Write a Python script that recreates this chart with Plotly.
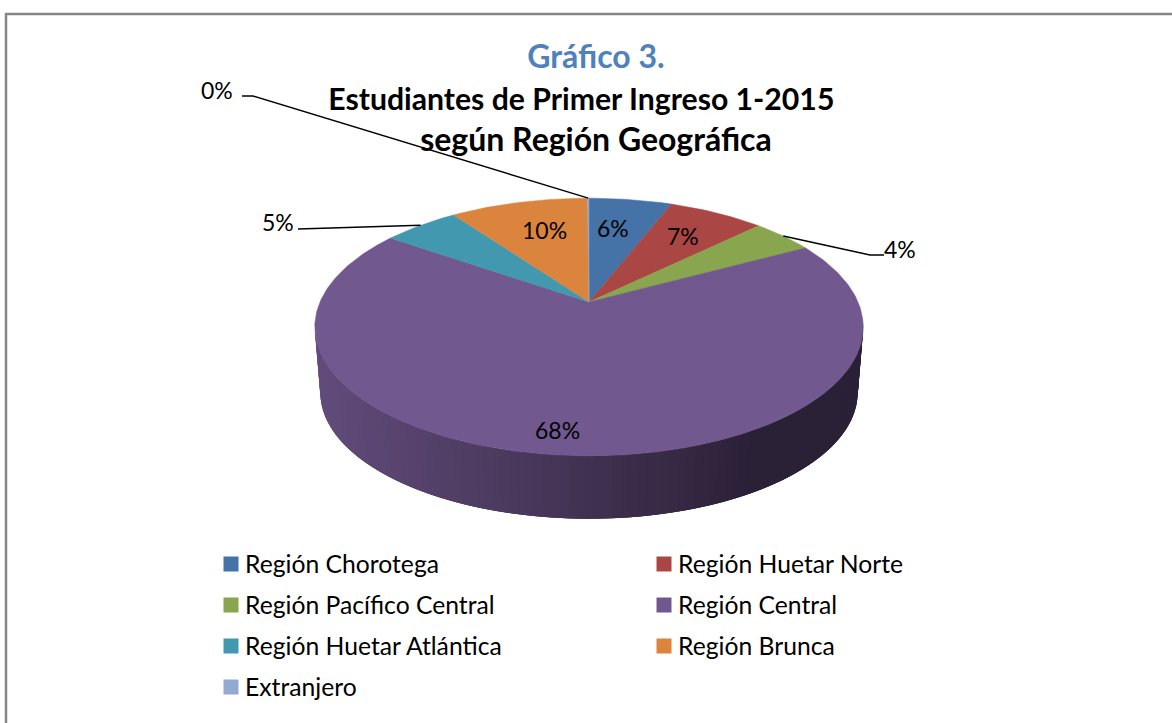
"""Gráfico 3: estudiantes de primer ingreso por región, pastel 3D en perspectiva."""

import numpy as np
import plotly.graph_objects as go

# values, in percent
categories = [
    "Región Chorotega",
    "Región Huetar Norte",
    "Región Pacífico Central",
    "Región Central",
    "Región Huetar Atlántica",
    "Región Brunca",
    "Extranjero",
]
values = [5.9, 6.8, 4.4, 67.6, 5.4, 9.8, 0.1]
colors = ["#4572A7", "#AA4643", "#89A54E", "#71588F", "#4198AF", "#DB843D", "#93A9CF"]

FONT = "Lato, Carlito, Calibri, sans-serif"
LABEL_SIZE = 23
LEGEND_SIZE = 24.7

# perspective of the disc, in pixels of the 1172x723 page
CX, CY = 589, 302
A, B, K = 269, 124, 0.194
DEPTH, SHRINK = 66, 0.98


def rim(theta, depth=0.0, scale=1.0):
    # theta in radians, clockwise from the top of the pie
    w = 1 + K * np.cos(theta)
    return CX + scale * A * np.sin(theta) / w, CY + depth - scale * B * np.cos(theta) / w


def lerp_color(c0, c1, t):
    return "rgb(%d,%d,%d)" % tuple(round(a + (b - a) * t) for a, b in zip(c0, c1))


def side_color(x):
    # side of the disc gets darker from left to right
    t = (x - 315) / (863 - 315)
    if t < 0.6:
        return lerp_color((98, 76, 124), (58, 44, 72), t / 0.6)
    return lerp_color((58, 44, 72), (42, 33, 55), min(1, (t - 0.6) / 0.2))


fig = go.Figure()

# side wall: strips painted left to right, each one overlapping the next so no seams show
edges = np.radians(np.arange(260, 99, -1.5))
for t0, t1 in zip(edges[:-1], edges[1:]):
    t2 = max(t1 - np.radians(3), edges[-1])
    arc = np.array([t0, t1, t2])
    xt, yt = rim(arc)
    xb, yb = rim(arc[::-1], DEPTH, SHRINK)
    col = side_color((xt[:2].mean() + xb[1:].mean()) / 2)
    fig.add_trace(go.Scatter(
        x=np.r_[xt, xb], y=np.r_[yt, yb],
        mode="lines", fill="toself", fillcolor=col,
        line=dict(color=col, width=0),
        showlegend=False, hoverinfo="skip",
    ))

# top of the disc
cum = np.cumsum([0] + values) / sum(values) * 2 * np.pi
for i, name in enumerate(categories):
    th = np.linspace(cum[i], cum[i + 1], max(3, int(values[i] * 4)))
    xr, yr = rim(th)
    fig.add_trace(go.Scatter(
        x=np.r_[CX, xr, CX], y=np.r_[CY, yr, CY],
        mode="lines", fill="toself", fillcolor=colors[i],
        line=dict(color=colors[i], width=0.5),
        name=name, showlegend=False,
        hovertemplate=f"{name}: {values[i]}%<extra></extra>",
    ))

# leader lines: label side -> elbow -> middle of the slice on the rim
mid = (cum[:-1] + cum[1:]) / 2
leaders = {6: [(242, 96), (253, 96)], 4: [(298, 229)], 2: [(884, 255), (870, 255)]}
for i, pts in leaders.items():
    xe, ye = rim(mid[i])
    fig.add_trace(go.Scatter(
        x=[p[0] for p in pts] + [xe], y=[p[1] for p in pts] + [ye],
        mode="lines", line=dict(color="black", width=1.5),
        showlegend=False, hoverinfo="skip",
    ))

# percentage labels
label_pos = [(613, 228), (683, 236), (900, 249), (557, 430), (278, 222), (544, 230), (217, 90)]
annotations = [
    dict(x=p[0], y=p[1], text=f"{round(v)}%", showarrow=False,
         font=dict(family=FONT, size=LABEL_SIZE, color="black"))
    for p, v in zip(label_pos, values)
]

# legend in two columns, as in the original
legend_x = [231, 664]
legend_y = [564, 605, 646, 687]
for pos, name in enumerate(categories):
    fig.add_trace(go.Scatter(
        x=[legend_x[pos % 2]], y=[legend_y[pos // 2]],
        mode="markers",
        marker=dict(symbol="square", size=15, color=colors[pos]),
        showlegend=False, hoverinfo="skip",
    ))
    annotations.append(dict(
        x=legend_x[pos % 2] + 14, y=legend_y[pos // 2], xanchor="left", text=name, showarrow=False,
        xshift=-2, yshift=1, font=dict(family=FONT, size=LEGEND_SIZE, color="black"),
    ))

title_text = (
    '<span style="font-size:32px;color:#4F81BD">Gráfico 3.</span><br>'
    '<span style="font-size:30.2px">Estudiantes de Primer Ingreso 1-2015&nbsp;&nbsp;&nbsp;&nbsp;</span><br>'
    '<span style="font-size:32px">según Región Geográfica</span>'
)

fig.update_layout(
    width=1172,
    height=723,
    margin=dict(l=0, r=0, t=0, b=0),
    paper_bgcolor="white",
    plot_bgcolor="white",
    title=dict(
        text=title_text, x=596 / 1172, xanchor="center", y=1 - 68 / 723, yanchor="middle",
        font=dict(family=FONT, size=32, color="black", weight="bold"),
    ),
    xaxis=dict(range=[0, 1172], visible=False, fixedrange=True),
    yaxis=dict(range=[723, 0], visible=False, fixedrange=True),
    annotations=annotations,
    shapes=[dict(type="rect", x0=6, y0=14, x1=1190, y1=740,
                 line=dict(color="#868686", width=2.5), layer="below")],
)

fig.write_html(
    "out.html",
    config={"displayModeBar": False},
    post_script="document.body.style.margin='0';",
)
